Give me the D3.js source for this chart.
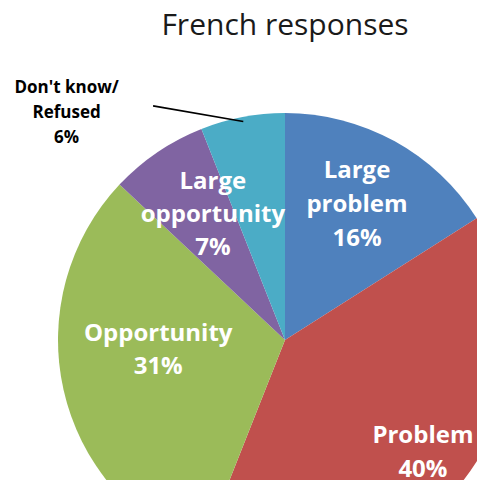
<!DOCTYPE html>
<html>
<head>
<meta charset="utf-8">
<script src="https://cdn.jsdelivr.net/npm/d3@7"></script>
<style>
  html, body { margin: 0; padding: 0; background: #fff; }
  svg { display: block; }
</style>
</head>
<body>
<script>
// ---- data ----
const title = "French responses";
const categories = ["Large problem", "Problem", "Opportunity", "Large opportunity", "Don't know/Refused"];
const values = [16, 40, 31, 7, 6];
const labelLines = [
  ["Large", "problem", "16%"],
  ["Problem", "40%"],
  ["Opportunity", "31%"],
  ["Large", "opportunity", "7%"],
  ["Don't know/", "Refused", "6%"]
];
const colors = ["#4F81BD", "#C0504D", "#9BBB59", "#8064A2", "#4BACC6"];

// ---- layout ----
const W = 477, H = 480;
const cx = 285, cy = 340, R = 227;
// label placement: radius factor and angular shift (deg) from slice mid-angle
const labelK = [0.678, 0.783, 0.56, 0.643, 1.39];
const labelShift = [-0.9, -0.5, 8.5, 4.6, -33];
const lineGap = [34, 34, 34, 33, 25];
const outside = [false, false, false, false, true];

const svg = d3.select("body").append("svg")
  .attr("width", W).attr("height", H);

svg.append("text")
  .attr("x", cx).attr("y", 35)
  .attr("text-anchor", "middle")
  .style("font-family", "'Open Sans', sans-serif")
  .style("font-size", "30px")
  .style("fill", "#1a1a1a")
  .text(title);

const pie = d3.pie().sort(null).value(d => d);
const arcs = pie(values);
const arc = d3.arc().innerRadius(0).outerRadius(R);

const g = svg.append("g").attr("transform", `translate(${cx},${cy})`);

g.selectAll("path.slice").data(arcs).join("path")
  .attr("class", "slice")
  .attr("d", arc)
  .attr("fill", (d, i) => colors[i]);

function polar(angle, rad) {
  return [rad * Math.sin(angle), -rad * Math.cos(angle)];
}

arcs.forEach((d, i) => {
  const mid = (d.startAngle + d.endAngle) / 2;
  const a = mid + labelShift[i] * Math.PI / 180;
  const [x, y] = polar(a, R * labelK[i]);
  const lines = labelLines[i];
  const gap = lineGap[i];
  const fs = outside[i] ? 17 : 24;
  const n = lines.length;
  const t = g.append("text")
    .attr("text-anchor", "middle")
    .style("font-family", "'Open Sans', sans-serif")
    .style("font-weight", "bold")
    .style("font-size", fs + "px")
    .style("fill", outside[i] ? "#000" : "#fff");
  lines.forEach((ln, j) => {
    t.append("tspan")
      .attr("x", x)
      .attr("y", y + (j - (n - 1) / 2) * gap + fs * 0.35)
      .text(ln);
  });
  if (outside[i]) {
    const [x2, y2] = polar(mid, R * 0.98);
    const [x1, y1] = polar(mid - 18.6 * Math.PI / 180, R * 1.184);
    g.append("line")
      .attr("x1", x1).attr("y1", y1)
      .attr("x2", x2).attr("y2", y2)
      .attr("stroke", "#000").attr("stroke-width", 1.6);
  }
});
</script>
</body>
</html>
